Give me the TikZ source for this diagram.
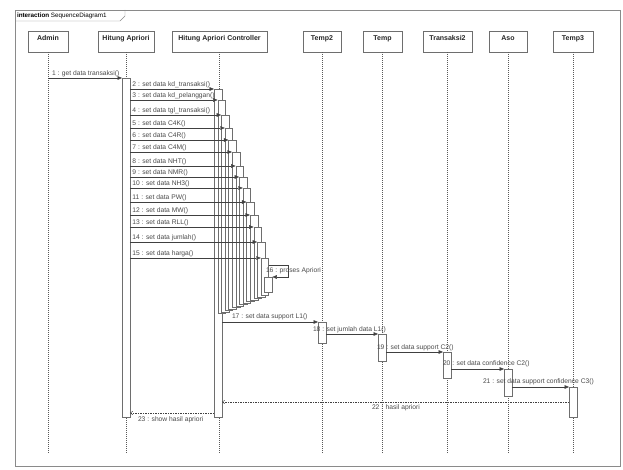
\documentclass[tikz,border=0pt]{standalone}
\usepackage{fontspec}
\setmainfont{Liberation Sans}
\usepackage{tikz}
\usetikzlibrary{arrows.meta,positioning,calc,shadows}
\definecolor{sqline}{HTML}{404040}
\definecolor{sqgrey}{HTML}{6E6E6E}
\definecolor{sqtext}{HTML}{4A4A4A}
\definecolor{sqframe}{HTML}{8A8A8A}

\tikzset{
  head/.style={draw=sqgrey,fill=white,minimum height=21pt,inner sep=0pt,
    text height=5.5pt,text depth=8pt,text=black!85,
    font=\fontsize{7}{8}\selectfont\bfseries,
    drop shadow={opacity=0.25,shadow xshift=1pt,shadow yshift=-1pt}},
  actbar/.style={draw=sqgrey,fill=white,minimum width=7.5pt,inner sep=0pt,anchor=north west},
  lifeline/.style={draw=black!65,dash pattern=on 1pt off 1pt},
  msg/.style={draw=sqline,-{Triangle[length=4.5pt,width=3.6pt]}},
  ret/.style={draw=sqline,dash pattern=on 1.5pt off 1pt,-{Straight Barb[length=2.5pt,width=3.5pt]}},
  lbl/.style={font=\fontsize{6.7}{8}\selectfont,text=sqtext,inner sep=0.8pt},
}

\begin{document}
\begin{tikzpicture}[x=1pt,y=-1pt]
\useasboundingbox (0,0) rectangle (623,470);
% frame
\draw[sqframe] (15,10) rectangle (620,466);
\draw[sqframe] (15,21) -- (120,21) -- (125,16) -- (125,10);
\node[lbl,anchor=west,text=black,font=\fontsize{6.3}{7}\selectfont] (title) at (16,15.5) {\textbf{interaction} SequenceDiagram1};

% lifeline heads
\node[head,minimum width=40pt] (admin) at (48,41.5) {Admin};
\node[head,minimum width=56pt] (ha) at (126,41.5) {Hitung Apriori};
\node[head,minimum width=95pt] (hac) at (219.5,41.5) {Hitung Apriori Controller};
\node[head,minimum width=38pt] (temp2) at (322,41.5) {Temp2};
\node[head,minimum width=39pt] (temp) at (382.5,41.5) {Temp};
\node[head,minimum width=49pt] (trans2) at (447.5,41.5) {Transaksi2};
\node[head,minimum width=38pt] (aso) at (508,41.5) {Aso};
\node[head,minimum width=40pt] (temp3) at (573,41.5) {Temp3};

\coordinate (lifeend) at (0,453);
\foreach \n in {admin,ha,hac,temp2,temp,trans2,aso,temp3}
  \draw[lifeline] (\n.south) -- (\n.south |- lifeend);

% get data
\node[actbar,anchor=north,minimum height=339pt] (habar) at (126,78) {};
\draw[msg] (admin |- habar.north) -- (habar.north west);
\node[lbl,anchor=south west] (l1) at ($(admin |- habar.north)+(3,-0.5)$) {1 : get data transaksi()};

% set data, one bar each
\foreach \k/\yy/\txt in {2/89/{set data kd\_transaksi()},3/100/{set data kd\_pelanggan()},
  4/115/{set data tgl\_transaksi()},5/128/{set data C4K()},6/140/{set data C4R()},
  7/152/{set data C4M()},8/166/{set data NHT()},9/177/{set data NMR()},
  10/188/{set data NH3()},11/202/{set data PW()},12/215/{set data MW()},
  13/227/{set data RLL()},14/242/{set data jumlah()},15/258/{set data harga()}} {
  \pgfmathtruncatemacro{\i}{\k-2}
  \pgfmathsetmacro{\bx}{214+3.6*\i}
  \pgfmathsetmacro{\bh}{\i==0 ? 417-\yy : 313-1.5*(\i-1)-\yy}
  \node[actbar,minimum height=\bh pt] (c\i) at (\bx,\yy) {};
  \draw[msg] (habar.east |- c\i.north) -- (c\i.north west);
  \node[lbl,anchor=south west] (l\k) at ($(habar.east |- c\i.north)+(1.5,-0.5)$) {\k{} : \txt};
}

% proses Apriori
\node[actbar,minimum height=15pt] (c14) at (264.4,277) {};
\coordinate (loop16) at (288,265);
\draw[msg] (c13.east |- loop16) -- (loop16) |- (c14.north east);
\node[lbl,anchor=west] (l16) at (265,271) {16 : proses Apriori};

% calls along the temp tables
\node[actbar,anchor=north,minimum height=21pt] (t2bar) at (322,322) {};
\node[actbar,anchor=north,minimum height=27pt] (tbar) at (382,334) {};
\node[actbar,anchor=north,minimum height=26pt] (trbar) at (447,352) {};
\node[actbar,anchor=north,minimum height=27pt] (asobar) at (508,369) {};
\node[actbar,anchor=north,minimum height=30pt] (t3bar) at (573,387) {};
\draw[msg] (c0.east |- t2bar.north) -- (t2bar.north west);
\draw[msg] (t2bar.east |- tbar.north) -- (tbar.north west);
\draw[msg] (tbar.east |- trbar.north) -- (trbar.north west);
\draw[msg] (trbar.east |- asobar.north) -- (asobar.north west);
\draw[msg] (asobar.east |- t3bar.north) -- (t3bar.north west);
\node[lbl,anchor=west] (l17) at (231,317) {17 : set data support L1()};
\node[lbl,anchor=west] (l18) at (312,330) {18 : set jumlah data L1()};
\node[lbl,anchor=west] (l19) at (376,348) {19 : set data support C2()};
\node[lbl,anchor=west] (l20) at (442,364) {20 : set data confidence C2()};
\node[lbl,anchor=west] (l21) at (482,382) {21 : set data support confidence C3()};

% returns
\coordinate (r22) at (0,402);
\coordinate (r23) at (0,413);
\draw[ret] (t3bar.west |- r22) -- (c0.east |- r22);
\draw[ret] (c0.west |- r23) -- (habar.east |- r23);
\node[lbl,anchor=west] (l22) at (371,408) {22 : hasil apriori};
\node[lbl,anchor=west] (l23) at (137,420) {23 : show hasil apriori};
\end{tikzpicture}
\end{document}
